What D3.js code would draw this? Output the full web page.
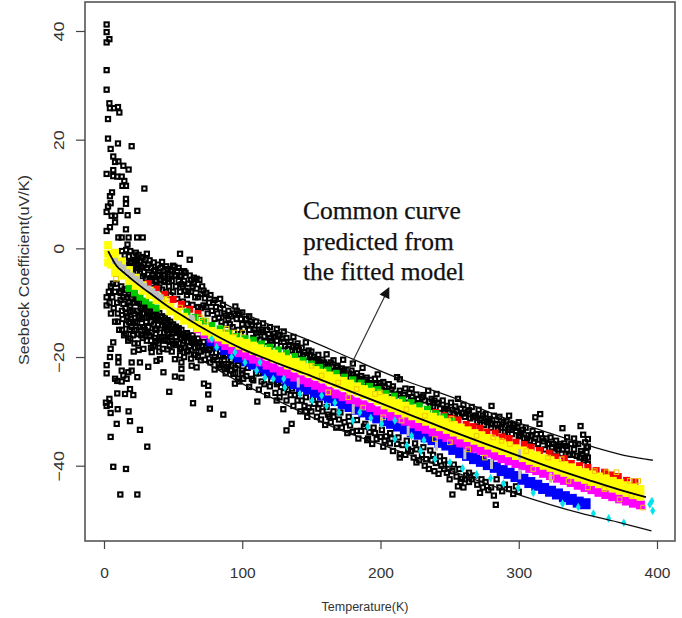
<!DOCTYPE html>
<html>
<head>
<meta charset="utf-8">
<script src="https://cdn.jsdelivr.net/npm/d3@7"></script>
<style>
  html, body { margin: 0; padding: 0; background: #fff; }
  svg { display: block; }
</style>
</head>
<body>
<div id="chart"></div>
<script>
// axis ticks
const xTicks = [0, 100, 200, 300, 400];
const yTicks = [-40, -20, 0, 20, 40];

// fitted curves
const commonT = [3, 9, 15, 26, 35, 48, 60, 69, 85, 100, 127, 150, 175, 200, 225, 250, 275, 300, 325, 350, 375, 392];
const commonS = [-0.5, -3.2, -4.6, -6.9, -8.6, -11, -12.9, -14.3, -16.6, -18.5, -21.3, -23.5, -26, -28.5, -31, -33.5, -35.9, -38.2, -40.5, -42.6, -44.6, -45.8];
const upperT = [72, 100, 127, 149, 180, 214, 255, 281, 320, 356, 380, 397];
const upperS = [-8.2, -11.8, -14.8, -17, -20.4, -24, -27.7, -30.4, -33.8, -36.7, -38.3, -39];
const lowerT = [69, 103, 127, 165, 207, 240, 272, 303, 344, 375, 396];
const lowerS = [-20.3, -25.3, -28.2, -32.8, -36.7, -39.8, -42.9, -45.6, -48.7, -50.6, -52];

// the common temperature steps of the coloured series
const bandT = [3,8,13,18,23,28,33,38,43,48,53,58,63,68,73,78,83,88,93,98,103,108,113,118,123,128,133,138,143,148,153,158,163,168,173,178,183,188,193,198,203,208,213,218,223,228,233,238,243,248,253,258,263,268,273,278,283,288,293,298,303,308,313,318,323,328,333,338,343,348,353,358,363,368,373,378,383,388];
const yellowTop = [0.6,-0.8,-2.4,-4,-5.4,-6.8,-7.8,-8.7,-9.7,-10.8,-11.7,-12.6,-13.4,-14.1,-14.8,-15.2,-15.6,-16.1,-16.6,-17.1,-17.4,-17.9,-18.4,-18.9,-19.4,-19.9,-20.4,-20.9,-21.4,-21.9,-22.4,-22.9,-23.4,-23.9,-24.4,-24.9,-25.4,-25.9,-26.4,-27,-27.5,-28,-28.5,-29,-29.5,-30,-30.5,-31,-31.5,-32,-32.5,-33,-33.5,-34,-34.4,-34.9,-35.4,-35.9,-36.3,-36.8,-37.2,-37.7,-38.1,-38.6,-39,-39.5,-39.9,-40.3,-40.8,-41.2,-41.6,-42,-42.4,-42.8,-43.2,-43.6,-44,-44.3];
const yellowLow = [-2.6,-3.8,-5,-6,-6.9,-7.8,-8.6,-9.5,-10.5,-11.6,-12.5,-13.3,-14,-14.7,-15.3,-15.9,-16.4,-16.9,-17.4,-17.9,-18.4,-18.9,-19.3,-19.8,-20.3,-20.8,-21.5,-22,-22.5,-23,-23.5,-24,-24.5,-25,-25.5,-26,-26.5,-27,-27.5,-28.1,-28.9,-29.4,-29.9,-30.4,-30.9,-31.4,-31.9,-32.4,-32.9,-33.4,-33.9,-34.4,-34.9,-35.4,-35.8,-36.3,-36.8,-37.3,-37.7,-38.2,-38.6,-39.1,-39.5,-40,-40.4,-40.9,-41.3,-41.7,-42.2,-42.6,-43,-43.4,-43.8,-44.2,-44.6,-45,-45.4,-45.7];
const yellowExtra = [[3,-1],[5,-1.5],[7,-2.2],[10,-2.9],[5,-3],[8,-4.5]];
const magentaS = [-14.8,-15.7,-16.5,-17.2,-17.9,-18.6,-19.2,-19.8,-20.4,-20.9,-21.5,-22,-22.6,-23.1,-23.7,-24.2,-24.7,-25.2,-25.7,-26.3,-26.8,-27.3,-27.8,-28.3,-28.8,-29.3,-29.9,-30.4,-30.9,-31.3,-31.8,-32.3,-32.8,-33.3,-33.8,-34.3,-34.8,-35.3,-35.8,-36.3,-36.8,-37.2,-37.7,-38.2,-38.7,-39.1,-39.6,-40,-40.5,-40.9,-41.4,-41.8,-42.3,-42.7,-43.1,-43.6,-44,-44.4,-44.9,-45.3,-45.7,-46.1,-46.5,-46.9,-47.2];
const blueS = [-17,-17.8,-18.6,-19.3,-20,-20.7,-21.3,-21.9,-22.5,-23.1,-23.7,-24.3,-24.9,-25.4,-25.9,-26.5,-27,-27.5,-28,-28.6,-29.1,-29.6,-30.1,-30.6,-31.2,-31.7,-32.2,-32.7,-33.2,-33.7,-34.2,-34.7,-35.2,-35.7,-36.2,-37,-37.6,-38.1,-38.7,-39.2,-39.8,-40.3,-40.9,-41.4,-42,-42.5,-43.1,-43.6,-44.2,-44.7,-45.2,-45.7,-46.2,-46.7,-47];
const redPoints = [[32,-6.5],[38,-7.5],[44,-8.5],[50,-9.4],[56,-10.3],[62,-11.2],[68,-12],[240,-30.2],[246,-30.8],[251,-31.3],[256,-31.6],[262,-32.4],[267,-32.8],[272,-33.1],[277,-33.8],[283,-34],[288,-34.7],[293,-35],[298,-35.7],[304,-36.1],[309,-36.6],[315,-37.2],[322,-37.7],[327,-38.4],[333,-38.7],[338,-39.6],[344,-40],[350,-40.3],[356,-40.9],[362,-41.2],[367,-41.7],[372,-42],[378,-42.7],[384,-43]];
const greenPoints = [[18,-7.4],[22,-8.2],[26,-9],[30,-9.7],[34,-10.4],[38,-11],[60,-11.7],[66,-12.7],[72,-13.4],[78,-14.2],[84,-14.8],[90,-15.6],[96,-16.2],[102,-16.6],[108,-16.9],[114,-17.6],[120,-18.2],[126,-18.7],[132,-19.3],[138,-19.9],[144,-20.6],[150,-21.3],[156,-21.9],[162,-22.4],[168,-23],[174,-23.7],[180,-24.2],[186,-24.8],[192,-25.4],[198,-26],[204,-26.7],[210,-27.2],[216,-27.9],[222,-28.4],[228,-29],[234,-29.6],[240,-30.4],[246,-31],[252,-31.8]];
const grayPoints = [[8,-2.3],[11,-2.9],[14,-3.5],[17,-4.4],[20,-5],[23,-5.6],[26,-6.2],[29,-6.9],[32,-7.4],[35,-7.9],[38,-8.4],[41,-9],[63.4,-12.8]];
const grayStreaks = [[140.5,-24.7],[180.3,-29.6],[200.8,-32],[220,-33.6],[240.5,-36.3],[261,-37.9],[280.3,-39.7],[300.7,-41.6],[300.7,-37.9],[323,-42.2]];
const orangePoints = [[150.2,-21.6],[157.4,-23.4],[169.4,-24.7],[182.7,-25.9],[196,-26.8],[199.6,-26.5],[218.8,-29.6],[232.1,-30.8],[251.4,-31.4],[269.5,-34.5],[281.5,-34.8],[287.5,-35.4],[162.2,-26.5],[176.7,-27.4],[187.5,-29.3],[202,-31.1],[215.2,-31.7],[239.3,-35.1],[250.2,-35.7],[263.4,-37],[275.5,-38.5],[293.6,-36],[305.5,-37.3],[321.3,-38.5],[331,-38.8],[355,-41],[363.5,-41.2],[370.7,-41.2],[380.3,-42.8],[386.4,-42.8],[336,-42.8],[350,-44],[362,-44.3],[372.9,-46.2],[381.5,-45.5],[390,-47.7],[310.5,-40.6],[323.7,-42.2],[8.7,-5.6],[88.7,-14.8],[94.7,-15.5],[100.7,-15.5],[69.4,-12.7],[74.2,-13.3],[55,-10.9],[45.3,-9.3]];
const cyanPoints = [[130,-24],[130.8,-25.6],[141.7,-26.8],[150.6,-28],[157.4,-27.1],[161,-29],[167,-28.4],[170,-30.2],[180,-31.7],[185,-30.2],[190.8,-32.8],[193,-31.2],[200.8,-32.3],[210.4,-35.1],[210.4,-31.7],[219,-36.3],[222.5,-34.5],[229,-37.3],[231.4,-35.3],[239.4,-38.8],[250.2,-39.4],[259.4,-40.5],[269.5,-41.6],[279.6,-42.3],[81.5,-18.2],[92.3,-20],[94.7,-19.1],[102,-21],[110.4,-22.5],[112.8,-21],[122.4,-24],[116.4,-23.8],[77.9,-16.7],[289,-43.3],[299.6,-44.1],[310.5,-45],[331.7,-47],[343,-47.6],[354,-48.8],[365,-49.7],[376,-50.5],[396.3,-46.5],[396.9,-48.3],[394.8,-47.1]];

// black squares: the scattered ones high up and far down at low temperature
const blackOutliers = [[1.9,41.2],[1.9,39.8],[3.9,38.5],[1.9,37.9],[1.9,32.8],[1.9,29.2],[3.9,26.7],[4.3,25.8],[7.2,25.8],[10.1,26],[11.1,25],[2.9,23.8],[2.9,20.2],[10.1,19.3],[20,18.8],[4.8,18.3],[6.7,16.9],[8,15.9],[10.4,16],[14,15.2],[17.8,14.5],[6.7,14.4],[1.9,13.7],[6.7,13.3],[9.6,13.2],[12.8,13.2],[14.7,12.4],[13.3,11.5],[15.9,11.5],[29.2,11],[5.8,10.3],[4.3,9.6],[15.9,9.1],[15.9,8.2],[4.8,8.3],[2.9,7.7],[1.9,6.7],[12,6.9],[24.1,6.9],[5.5,6],[8,6],[17.1,6.1],[8,4.8],[1.9,3.2],[4.3,3.9],[15.9,3.5],[10.4,2],[12.8,2],[17.8,2],[24,2],[28,2],
[1.9,-21.5],[1.9,-23],[4.3,-20],[4.8,-18.5],[6.7,-17.3],[10.4,-20],[10.4,-21],[8,-24],[9.6,-24.4],[12.8,-22.5],[14,-23.4],[17.6,-22.8],[20,-22.5],[24.1,-23.7],[16.4,-24],[12.8,-24.5],[9.6,-26.7],[15.2,-26.8],[18.8,-25.9],[21.2,-27],[3.9,-27.7],[1.4,-28.4],[4.3,-28.8],[1.9,-29],[4.8,-30.3],[9.9,-29.6],[17.8,-30],[9.2,-32.3],[18.8,-31.8],[26,-33.4],[4.8,-34.7],[31.3,-36.5],[6.7,-40.2],[15.9,-40.6],[11.8,-45.3],[24.1,-45.3],[32,-21.8],[43,-22.8],[51.3,-23.6],[56,-23.8],[47.2,-26.4],[64.4,-28.5],[72.3,-24.9],[75.4,-25.3],[75.4,-26.9],[76.6,-29.5],[86.3,-30.6],[94.7,-24.9],[97.9,-24.5],[100.7,-24],[110.9,-28.2],[124.9,-28],[93.5,-23.1],[51.3,-20.4],[56,-21],[56,-22.2],[34.5,-19.1],[38,-20.7],[40.5,-20.4],[26,-21],[20,-21],[63.4,-21.6],[67,-21.9],[83.9,-21.9],[87.5,-22.2],[92.3,-21.6],[283.4,-47.2],[252,-45.3],[132,-33.5],[135.7,-32.3],[129.7,-29.6],[182.7,-33.6],[190.4,-35.3],[197.2,-35.1],[206.8,-35.9],[209,-37.3],[214,-37.9],[226,-39.4],[232,-40],[239,-41],[246,-40.6],[258,-43],[261,-42.5],[280,-44],[284,-42.5]];
// below the band, up to about 95 K
const blackLowDense = [[1.9,-9],[1.9,-10.5],[3.5,-8],[4,-10],[5,-7],[5,-12],[6,-9],[6.5,-6.5],[7,-11],[8,-8],[8,-13.5],[9,-6.5],[9.5,-10],[10,-12],[11,-8],[11,-15],[12,-9.5],[12.5,-7],[13,-11.5],[13.5,-13],[14,-9],[14.5,-16],[15,-7.5],[15.5,-11],[16,-14],[16.5,-9],[17,-12.5],[17.5,-17],[18,-8.5],[18.5,-15],[19,-10.5],[19.5,-13],[20,-9],[20.5,-11.5],[21,-16],[21.5,-19],[22,-10],[22.5,-13.5],[23,-9.3],[23.5,-15],[24,-11.5],[24.5,-17.5],[25,-12.5],[25.5,-10],[26,-14.5],[26.5,-11],[27,-16],[27.5,-13],[28,-10.7],[28.5,-18.5],[29,-12],[29.5,-15],[30,-11],[30.5,-13.5],[31,-17],[31.5,-11.5],[32,-14.5],[32.5,-12.5],[33,-16],[33.5,-11.8],[34,-13.5],[34.5,-15.5],[35,-12.2],[35.5,-18],[36,-14],[36.5,-12.5],[37,-16.5],[37.5,-13],[38,-15],[38.5,-12.8],[39,-14],[39.5,-17.5],[40,-13.3],[40.5,-15.5],[41,-13.2],[41.5,-16.5],[42,-14.2],[42.5,-18.5],[43,-13.5],[43.5,-15.5],[44,-14.5],[44.5,-16.8],[45,-14],[45.5,-15],[46,-17],[46.5,-14.4],[47,-15.8],[47.5,-18],[48,-14.8],[48.5,-16.3],[49,-15],[50,-17.5],[50,-15.5],[51,-15.1],[52,-16.3],[53,-15.6],[54,-17.5],[54,-15.3],[55,-16],[56,-18.3],[56,-16.5],[57,-15.7],[58,-17],[59,-16],[60,-19],[60,-17.2],[61,-16.3],[62,-18],[63,-16.6],[64,-17.4],[65,-19.5],[65,-17],[66,-18.3],[67,-17.3],[68,-20],[68,-18],[69,-17.5],[70,-19],[71,-18],[72,-18.7],[73,-20.5],[74,-18.3],[75,-19.5],[76,-18.7],[77,-21],[78,-19.2],[80,-20],[80,-22.3],[82,-20.6],[84,-19.8],[85,-21.5],[87,-20.5],[88,-23],[90,-21.3],[92,-22.5],[95,-22],[95,-23],[12,-8.2],[14,-10.2],[16,-7.7],[16,-12],[18,-10],[18,-13.5],[20,-7.7],[20,-14.5],[22,-8.5],[22,-12],[24,-9.7],[24,-13.7],[26,-9],[26,-12.7],[28,-12],[28,-14.5],[30,-9.8],[30,-16],[32,-10.6],[34,-11],[34,-17],[36,-11.2],[38,-11.5],[38,-17],[40,-11.9],[40,-19],[42,-12.5],[44,-12.8],[46,-13.2],[48,-13.5],[50,-14],[52,-14.4],[54,-14.7],[56,-15],[60,-15.6],[64,-16],[68,-16.6],[72,-17.2],[76,-17.7],[80,-18.4],[84,-18.9],[88,-19.6],[92,-19.9]];
// the solid part of the cloud under the band
const blackLowSolid = [[10,-13.5],[13,-15],[16,-15.7],[19,-11.7],[19,-16.6],[22,-15],[22,-17.5],[25,-15.8],[25,-18.7],[28,-16.5],[31,-15.5],[31,-12.8],[34,-18.3],[37,-14.8],[37,-18],[40,-16.8],[43,-17],[46,-15.8],[46,-18.6],[49,-17],[49,-19],[52,-17.8],[55,-18.6],[55,-19.7],[58,-18.3],[58,-20],[61,-18.8],[63,-20.3],[66,-19.6],[70,-20.6],[79,-20.5],[83,-21.3],[86,-19.9],[89,-21.8],[92,-20.6],[97,-21.5],[100,-23],[104,-22],[108,-24.3],[112,-23],[120,-23.2],[126,-24.7],[131,-25.5],[136,-25.8],[141,-26.6],[146,-27.4],[146,-30],[151,-27.8],[156,-28.6],[161,-29.2],[163,-31],[166,-30],[171,-30.2],[177,-31],[183,-31.6],[189,-32.3],[191,-35],[195,-33],[201,-33.4],[203,-35.4],[207,-34],[213,-34.8],[219,-35.4],[220,-37],[225,-35.9],[231,-36.6],[236,-37.2],[238,-38],[243,-38.3],[246,-39],[249,-39.8],[253,-39.8],[257,-40.6],[259,-42.4],[264,-41.3],[268,-41.8],[273,-42.5],[276,-43],[288,-44.7],[298,-43.8]];
// above the band, up to about 70 K
const blackUpDense = [[13,-0.5],[14,-3.2],[15,-1.3],[16,-0.3],[17,0.7],[17,-2.5],[18,-1.5],[18,-3.3],[19,-0.5],[20,-2.5],[20,-4],[21,-1.3],[21,-3.3],[22,-2.3],[23,-3.6],[23,-0.8],[24,-2.3],[24,-4.4],[25,-3.2],[25,-1.2],[26,-4.6],[26,-2.4],[27,-3.4],[28,-1.6],[28,-5.2],[29,-3],[29,-4.3],[30,-2],[30,-5.6],[31,-3.6],[32,-4.8],[33,-2.2],[33,-6],[34,-3.6],[35,-5],[35,-6.5],[36,-2.6],[37,-4],[38,-6],[38,-7],[39,-3],[40,-4.8],[40,-7.2],[41,-5.8],[42,-2.5],[42,-7.6],[43,-4.2],[44,-6.2],[45,-8],[45,-3.3],[46,-5.2],[47,-7],[48,-4],[48,-8.6],[49,-6],[50,-3.2],[50,-8],[51,-5],[52,-7],[53,-9.3],[53,-4.2],[54,-6],[55,-1],[55,-8],[56,-5],[57,-9.8],[57,-7],[58,-6],[59,-4.5],[60,-8.6],[60,-10.2],[61,-6.5],[62,-2.1],[62,-5],[63,-8],[64,-10.4],[65,-6.5],[65,-5.4],[66,-9],[67,-7.4],[68,-10.8],[69,-5.8],[70,-8.4],[70,-11]];
// above the band from 70 K to the last reading at 350 K
const blackUpHigh = [[72,-7.8],[74,-8.2],[72,-10.5],[75,-12],[76,-10],[78,-11.5],[80,-9.5],[80,-13],[82,-12],[84,-9.3],[84,-11],[85,-13.5],[87,-12],[88,-14],[90,-11.5],[90,-13],[92,-12.5],[93,-14.5],[95,-10.7],[96,-13],[97,-15],[98,-12],[100,-14],[100,-11.8],[102,-15.8],[103,-13],[105,-15],[105,-12.5],[107,-14],[108,-16.5],[110,-13.5],[110,-15.5],[112,-14.2],[113,-16.8],[115,-13.8],[115,-15.4],[117,-17.2],[118,-15],[120,-14.5],[120,-16.5],[122,-17.7],[123,-15.7],[125,-14.8],[125,-17],[127,-16],[128,-18],[130,-15.3],[130,-17.2],[132,-16.5],[133,-18.5],[135,-17.2],[137,-18.1],[137,-16.3],[138,-19],[140,-17.5],[142,-19.5],[143,-18.3],[145,-19.1],[146,-17.3],[147,-20],[148,-18.8],[150,-20.5],[150,-19],[152,-20],[153,-21.3],[155,-19.6],[155,-20.7],[157,-21.7],[158,-20.5],[160,-21.4],[161,-19.5],[163,-22.2],[164,-21],[166,-20.6],[167,-22.6],[169,-21.6],[170,-23],[172,-22.1],[173,-20.5],[175,-23.4],[176,-22.3],[178,-23.8],[179,-22.5],[180,-21.2],[181,-24],[183,-23],[184,-24.4],[186,-23.5],[187,-22],[188,-24.8],[190,-23.8],[191,-25.2],[193,-24.2],[195,-25.6],[196,-24],[198,-23.2],[199,-25.4],[201,-26],[202,-24.6],[204,-26.3],[206,-25],[207,-26.6],[209,-25.4],[211,-27],[212,-23.7],[214,-24.1],[214,-26.2],[216,-27.5],[218,-25.8],[219,-27.6],[221,-26.6],[222.5,-25.9],[224,-28],[226,-26.9],[228,-28.5],[230,-27.4],[232,-28],[234.5,-26.2],[236,-29],[237,-27.7],[238,-29.2],[240.5,-26.8],[241,-28.4],[243,-29.5],[245,-28],[246,-30],[248,-29],[250,-30.2],[251,-28.4],[253,-30.4],[254,-29.1],[256,-27.7],[257,-30.7],[258,-29.5],[260,-28.8],[261,-31],[263,-30],[265,-31.3],[266,-29.2],[268,-30.8],[270,-32],[271,-29.7],[273,-31.3],[275,-32.5],[276,-30.5],[278,-31.7],[280.3,-29],[280,-33],[282,-30.8],[283,-32.3],[285,-33.4],[286,-31],[288,-32.4],[290,-33.8],[291,-31.8],[293,-30.8],[293,-33],[295,-34.2],[296,-32.5],[298,-33.6],[300,-34.6],[300,-32],[302,-34],[304,-35],[305,-33],[307,-34.4],[308,-35.4],[310,-33.6],[312,-31.1],[312,-35],[314,-36],[315.5,-30.5],[315,-32.3],[316,-34.2],[318,-35.5],[319,-37],[321,-36],[323,-34.8],[324,-36.6],[326,-37.5],[327,-35.4],[329,-36.4],[331.6,-33.1],[331,-37.8],[333,-35.9],[335,-34.8],[335,-37],[337,-38],[338,-36],[340,-35],[340,-37],[342,-38.2],[343,-36],[344.7,-32.7],[345,-37.3],[346.6,-34.3],[347,-39],[348,-35.7],[349,-37.5],[350,-35.1],[350,-36.5],[350,-38.5],[350,-39.7]];
// the solid part of the cloud over the band
const blackUpSolid = [[15,-3],[17,-4.5],[19,-2.7],[21,-4.7],[23,-2.3],[27,-1.7],[27,-5.2],[31,-1],[32,-3],[34,-5.5],[36,-4.2],[37,-6],[39,-5],[41,-3.6],[43,-6],[44,-4.8],[46,-3.8],[47,-5.6],[49,-4.2],[51,-3.4],[52,-5],[54,-3.6],[55,-5.2],[56,-6.6],[58,-4.2],[59,-7.8],[61,-8],[63,-5.8],[64,-7],[67,-5.6],[68,-9],[71,-7],[73,-9.2],[74,-10.8],[77,-8.6],[79,-10],[81,-10.8],[83,-12.8],[86,-10.4],[88,-12.4],[91,-14],[94,-12],[96,-11.5],[99,-13],[101,-14.8],[104,-14],[106,-13.5],[109,-15],[111,-16.2],[114,-15],[116,-16.2],[119,-15.8],[121,-17],[124,-16.2],[126,-16],[129,-16.6],[131,-18],[134,-17.8],[136,-18.8],[139,-18],[141,-18.7],[144,-19.6],[149,-19.7],[151,-20.8],[154,-20.4],[156,-21],[159,-21],[162,-21.4],[165,-21.8],[168,-21.9],[171,-22.6],[174,-22.4],[177,-23],[180,-23.2],[182,-23.6],[185,-24],[189,-24.2],[192,-24.8],[197,-25],[200,-24.8],[203,-25.6],[208,-26],[213,-26.8],[217,-27],[223,-27.4],[227,-27.8],[231,-27],[235,-28.2],[239,-28],[242,-28.5],[247,-29.5],[252,-29.7],[255,-30],[259,-30.3],[262,-30.4],[264,-29.8],[267,-31],[269,-30.8],[272,-31.6],[274,-30.8],[277,-32],[279,-31.4],[281,-32.4],[284,-31.6],[287,-33],[289,-32],[292,-33.4],[294,-32.3],[297,-33],[299,-33],[301,-34.4],[303,-33.4],[306,-35],[309,-34.5],[311,-35.6],[313,-34.2],[317,-35],[320,-35],[322,-36],[325,-36],[328,-37],[330,-36],[332,-37],[334,-36.4],[336,-38],[339,-38],[341,-36],[344,-38.5],[346,-37.8],[348,-38.6],[349,-36.6]];
// below the band from 95 K to 300 K
const blackLowHigh = [[97,-24],[100,-22.5],[103,-23.5],[105,-25.5],[107,-24],[110,-23],[112,-26],[114,-24.5],[116,-25],[118,-27],[120,-25.4],[121,-24.3],[124,-26.6],[125,-25],[127,-27.4],[128,-25.5],[130,-26.5],[132,-28],[133,-26],[135,-27],[137,-29],[138,-27],[140,-28],[142,-30],[143,-28],[145,-29],[147,-31],[148,-29.3],[150,-30],[152,-28.6],[154,-31],[155,-29.5],[157,-31.5],[158,-30],[160,-32.5],[162,-30.6],[164,-32],[166,-31],[168,-33],[170,-31.5],[172,-33],[174,-32],[176,-34],[178,-32.6],[180,-33.8],[184,-35],[186,-33.6],[188,-32.8],[192,-33.8],[194,-36],[196,-34],[200,-34.7],[202,-36.5],[204,-34.6],[208,-35],[212,-36],[214,-38.5],[216,-36.2],[218,-38],[222,-37.3],[224,-38.5],[226,-37],[228,-39],[230,-38],[233,-38.8],[235,-40.6],[237,-39],[240,-39.5],[242,-41.5],[244,-40],[248,-41.3],[250,-42.5],[252,-41],[255,-42],[256,-43.8],[260,-44],[262,-41.8],[264,-43],[266,-42.5],[270,-43.5],[272,-45],[274,-44],[278,-44.5],[282,-45.5],[286,-44],[290,-43.5],[293,-44.3],[296,-45.2],[300,-44.8]];

// annotation
const noteLines = ["Common curve", "predicted from", "the fitted model"];
const arrowFrom = [175.7, -23];
const arrowTo = [206, -7.3];

//---------------- svg + scales ----------------
const width = 682, height = 618;
const frame = {left: 85, right: 675, top: 2, bottom: 541};

const x = d3.scaleLinear().domain([0, 400]).range([104, 657]);
const y = d3.scaleLinear().domain([-40, 40]).range([465.7, 31]);

const svg = d3.select("#chart").append("svg")
  .attr("width", width)
  .attr("height", height);

svg.append("rect").attr("width", width).attr("height", height).attr("fill", "#fff");

// the reference is a soft rescaled image
const defs = svg.append("defs");
defs.append("filter").attr("id", "soft")
  .append("feGaussianBlur").attr("stdDeviation", 0.3);
const arrowHead = defs.append("marker")
  .attr("id", "head")
  .attr("viewBox", "0 0 10 10")
  .attr("refX", 9).attr("refY", 5)
  .attr("markerUnits", "userSpaceOnUse")
  .attr("markerWidth", 13).attr("markerHeight", 11)
  .attr("orient", "auto");
arrowHead.append("path").attr("d", "M0,0L10,5L0,10Z").attr("fill", "#111");

const marks = svg.append("g").attr("filter", "url(#soft)");

//---------------- marks ----------------
const zip = (t, s) => s.map((v, i) => [t[i], v]);

function filledSquares(points, color, size) {
  marks.append("g").selectAll("rect").data(points).enter().append("rect")
    .attr("x", d => x(d[0]) - size / 2)
    .attr("y", d => y(d[1]) - size / 2)
    .attr("width", size).attr("height", size)
    .attr("fill", color);
}

function openSquares(points, color, size, strokeWidth) {
  marks.append("g").selectAll("rect").data(points).enter().append("rect")
    .attr("x", d => x(d[0]) - size / 2)
    .attr("y", d => y(d[1]) - size / 2)
    .attr("width", size).attr("height", size)
    .attr("fill", "none")
    .attr("stroke", color)
    .attr("stroke-width", strokeWidth);
}

const blackAll = [].concat(blackOutliers, blackLowDense, blackLowSolid, blackUpDense, blackUpSolid, blackUpHigh, blackLowHigh);
openSquares(blackAll, "#000", 4.3, 2);

filledSquares(redPoints, "#ff0000", 7);
filledSquares(greenPoints, "#00c800", 7);
filledSquares(zip(bandT.slice(15), blueS), "#0000ff", 11);
filledSquares(zip(bandT.slice(13), magentaS), "#ff00ff", 9);
filledSquares(zip(bandT, yellowTop), "#ffff00", 8);
filledSquares(zip(bandT, yellowLow), "#ffff00", 8);
filledSquares(yellowExtra, "#ffff00", 8);
filledSquares(grayPoints, "#bebebe", 6);

// gray marks at high temperature are thin upright streaks
marks.append("g").selectAll("rect").data(grayStreaks).enter().append("rect")
  .attr("x", d => x(d[0]) - 1.5)
  .attr("y", d => y(d[1]) - 5)
  .attr("width", 3).attr("height", 10)
  .attr("fill", "#bebebe");

openSquares(orangePoints, "#eec900", 4.6, 1);

marks.append("g").selectAll("path").data(cyanPoints).enter().append("path")
  .attr("d", d3.symbol().type(d3.symbolDiamond).size(22))
  .attr("transform", d => `translate(${x(d[0])},${y(d[1])})`)
  .attr("fill", "#00e5ee");

// curves
const line = d3.line().x(d => x(d[0])).y(d => y(d[1])).curve(d3.curveMonotoneX);

marks.append("path").datum(zip(upperT, upperS)).attr("d", line)
  .attr("fill", "none").attr("stroke", "#111").attr("stroke-width", 1.3);
marks.append("path").datum(zip(lowerT, lowerS)).attr("d", line)
  .attr("fill", "none").attr("stroke", "#111").attr("stroke-width", 1.3);
marks.append("path").datum(zip(commonT, commonS)).attr("d", line)
  .attr("fill", "none").attr("stroke", "#000").attr("stroke-width", 1.8);

//---------------- frame + axes ----------------
svg.append("rect")
  .attr("x", frame.left).attr("y", frame.top)
  .attr("width", frame.right - frame.left).attr("height", frame.bottom - frame.top)
  .attr("fill", "none").attr("stroke", "#555").attr("stroke-width", 1.6);

const xAxis = svg.append("g")
  .attr("transform", `translate(0,${frame.bottom})`)
  .call(d3.axisBottom(x).tickValues(xTicks).tickSize(8).tickSizeOuter(0).tickFormat(d3.format("d")));
const yAxis = svg.append("g")
  .attr("transform", `translate(${frame.left},0)`)
  .call(d3.axisLeft(y).tickValues(yTicks).tickSize(9).tickSizeOuter(0).tickFormat(d3.format("d")));

xAxis.select(".domain").remove();
yAxis.select(".domain").remove();
svg.selectAll(".tick line").attr("stroke", "#444").attr("stroke-width", 1.2);

xAxis.selectAll("text")
  .attr("y", 0).attr("dy", 0)
  .attr("transform", "translate(0,37)")
  .style("font", "15.5px 'Liberation Sans', Arial, sans-serif")
  .attr("fill", "#333");
yAxis.selectAll("text")
  .attr("x", 0).attr("dy", 0)
  .attr("text-anchor", "middle")
  .attr("transform", "translate(-21,0) rotate(-90) scale(1.2,1)")
  .style("font", "15px 'Liberation Sans', Arial, sans-serif")
  .attr("fill", "#333");

svg.append("text")
  .attr("x", 365).attr("y", 611)
  .attr("text-anchor", "middle")
  .style("font", "12.5px 'Liberation Sans', Arial, sans-serif")
  .attr("fill", "#333")
  .text("Temperature(K)");

svg.append("text")
  .attr("transform", "translate(29,270) rotate(-90)")
  .attr("text-anchor", "middle")
  .attr("textLength", 190)
  .attr("lengthAdjust", "spacingAndGlyphs")
  .style("font", "14px 'Liberation Sans', Arial, sans-serif")
  .attr("fill", "#333")
  .text("Seebeck Coefficient(uV/K)");

//---------------- annotation ----------------
svg.selectAll(".note").data(noteLines).enter().append("text")
  .attr("class", "note")
  .attr("x", 303)
  .attr("y", (d, i) => 219 + i * 30.5)
  .style("font", "25.5px 'Liberation Serif', 'Times New Roman', serif")
  .attr("fill", "#111")
  .attr("stroke", "#111")
  .attr("stroke-width", 0.25)
  .text(d => d);

svg.append("line")
  .attr("x1", x(arrowFrom[0])).attr("y1", y(arrowFrom[1]))
  .attr("x2", x(arrowTo[0])).attr("y2", y(arrowTo[1]))
  .attr("stroke", "#333").attr("stroke-width", 1.2)
  .attr("marker-end", "url(#head)");
</script>
</body>
</html>
